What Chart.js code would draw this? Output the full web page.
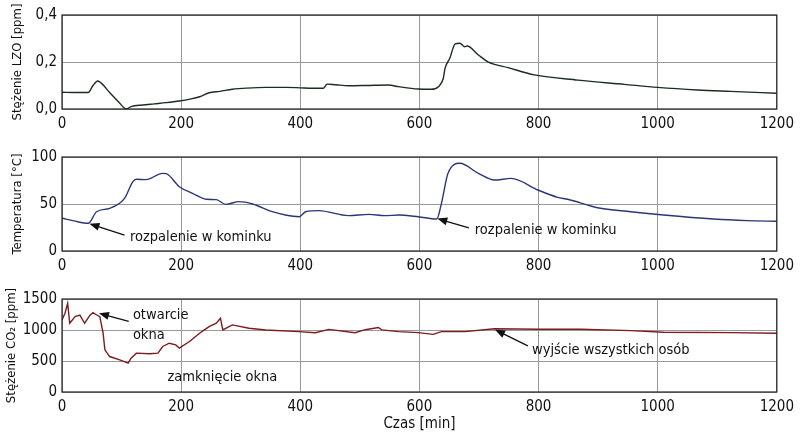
<!DOCTYPE html>
<html>
<head>
<meta charset="utf-8">
<script src="https://cdn.jsdelivr.net/npm/chart.js@4"></script>
<style>
  body { margin: 0; background: #fff; }
  #wrap { position: relative; width: 800px; height: 439px; }
  .panel { position: absolute; left: 0; width: 800px; }
</style>
</head>
<body>
<div id="wrap">
  <div class="panel" style="top:0;height:135px"><canvas id="lzo"></canvas></div>
  <div class="panel" style="top:135px;height:140px"><canvas id="temp"></canvas></div>
  <div class="panel" style="top:275px;height:164px"><canvas id="co2"></canvas></div>
</div>
<script>
const xTicks = [0, 200, 400, 600, 800, 1000, 1200];

// LZO [ppm]
const lzoTime = [0, 20, 44, 52, 60, 66, 80, 95, 108, 116, 135, 155, 175, 197, 215, 231, 247, 265, 286, 310, 342, 376, 400, 420, 439, 445, 460, 481, 510, 548, 565, 598, 620, 632, 640, 643, 651, 660, 668, 676, 680, 699, 715, 749, 793, 866, 944, 1000, 1067, 1122, 1200];
const lzoValue = [0.071, 0.07, 0.07, 0.1, 0.119, 0.11, 0.07, 0.03, 0.0, 0.01, 0.017, 0.022, 0.027, 0.034, 0.042, 0.052, 0.069, 0.075, 0.084, 0.089, 0.092, 0.092, 0.09, 0.088, 0.088, 0.106, 0.103, 0.099, 0.1, 0.102, 0.095, 0.085, 0.084, 0.095, 0.13, 0.173, 0.216, 0.277, 0.28, 0.265, 0.268, 0.23, 0.201, 0.176, 0.145, 0.123, 0.105, 0.092, 0.081, 0.075, 0.067];

// Temperatura [°C]
const tempTime = [0, 20, 44, 58, 80, 105, 119, 125, 141, 169, 175, 197, 219, 242, 259, 275, 297, 320, 353, 375, 398, 409, 431, 481, 515, 542, 565, 598, 629, 637, 648, 668, 699, 726, 754, 799, 832, 849, 899, 955, 1010, 1094, 1150, 1200];
const tempValue = [34.8, 32, 29.5, 41.8, 45.4, 56, 73.8, 76.3, 75.9, 82.6, 82.3, 68.4, 61.4, 55, 54.6, 49.6, 52.5, 50, 41.8, 38.3, 36.5, 41.8, 42.9, 37.6, 39, 37.6, 38.3, 36.5, 34, 50.7, 82.6, 93.3, 82.6, 75.5, 77.3, 64.9, 57.1, 55, 46, 41.8, 38.3, 34, 32.3, 31.6];

// Stężenie CO2 [ppm]
const co2Time = [0, 5, 9.5, 13, 22, 30, 38, 47, 52, 57, 63.5, 69, 72, 80, 97, 111, 116, 125, 147, 161, 169, 180, 191, 197, 214, 231, 239, 247, 259, 266, 270, 286, 314, 342, 398, 425, 448, 492, 509, 531, 537, 565, 598, 623, 637, 676, 726, 799, 871, 955, 1010, 1122, 1200];
const co2Value = [1162, 1270, 1431, 1109, 1215, 1240, 1109, 1240, 1280, 1250, 1215, 948, 680, 572, 519, 466, 546, 627, 616, 627, 734, 787, 760, 707, 814, 948, 1001, 1055, 1109, 1189, 1001, 1082, 1028, 1001, 974, 955, 1010, 955, 1005, 1040, 1001, 974, 958, 930, 974, 974, 1020, 1012, 1012, 990, 964, 958, 948];

// annotations: text position and arrow (tail -> head) in data units
const tempNotes = [
  { text: 'rozpalenie w kominku', x: 114, y: 15, arrow: [105, 17, 46, 29] },
  { text: 'rozpalenie w kominku', x: 693, y: 22, arrow: [683, 24.5, 630, 34.5] }
];
const co2Notes = [
  { text: 'otwarcie', x: 119, y: 1243, arrow: [112, 1140, 62, 1270] },
  { text: 'okna', x: 119, y: 921 },
  { text: 'zamknięcie okna', x: 177, y: 246 },
  { text: 'wyjście wszystkich osób', x: 789, y: 680, arrow: [782, 744, 727, 1005] }
];

const FONT = "'DejaVu Sans Condensed', 'Liberation Sans Narrow', Arial, sans-serif";

const frame = {
  id: 'frame',
  afterDraw(chart) {
    const a = chart.chartArea, ctx = chart.ctx;
    ctx.save();
    ctx.strokeStyle = '#222';
    ctx.lineWidth = 1.2;
    ctx.strokeRect(a.left, a.top, a.right - a.left, a.bottom - a.top);
    ctx.restore();
  }
};

const notes = {
  id: 'notes',
  afterDraw(chart, args, opts) {
    const list = opts.items || [];
    const xs = chart.scales.x, ys = chart.scales.y, ctx = chart.ctx;
    ctx.save();
    ctx.fillStyle = '#111';
    ctx.strokeStyle = '#111';
    ctx.font = '14.5px ' + FONT;
    ctx.textBaseline = 'middle';
    list.forEach(n => {
      ctx.fillText(n.text, xs.getPixelForValue(n.x), ys.getPixelForValue(n.y));
      if (n.arrow) {
        const x1 = xs.getPixelForValue(n.arrow[0]), y1 = ys.getPixelForValue(n.arrow[1]);
        const x2 = xs.getPixelForValue(n.arrow[2]), y2 = ys.getPixelForValue(n.arrow[3]);
        const ang = Math.atan2(y2 - y1, x2 - x1);
        ctx.lineWidth = 1.3;
        ctx.beginPath();
        ctx.moveTo(x1, y1);
        ctx.lineTo(x2 - 6 * Math.cos(ang), y2 - 6 * Math.sin(ang));
        ctx.stroke();
        ctx.beginPath();
        ctx.moveTo(x2, y2);
        ctx.lineTo(x2 - 10 * Math.cos(ang) + 4 * Math.sin(ang), y2 - 10 * Math.sin(ang) - 4 * Math.cos(ang));
        ctx.lineTo(x2 - 10 * Math.cos(ang) - 4 * Math.sin(ang), y2 - 10 * Math.sin(ang) + 4 * Math.cos(ang));
        ctx.closePath();
        ctx.fill();
      }
    });
    ctx.restore();
  }
};

function makePanel(id, times, values, color, cfg) {
  const pts = times.map((t, i) => ({ x: t, y: values[i] }));
  new Chart(document.getElementById(id), {
    type: 'line',
    data: {
      datasets: [{
        data: pts,
        borderColor: color,
        borderWidth: 1.4,
        pointRadius: 0,
        cubicInterpolationMode: cfg.smooth ? 'monotone' : 'default',
        tension: 0,
        fill: false
      }]
    },
    options: {
      responsive: true,
      maintainAspectRatio: false,
      animation: false,
      layout: { padding: { top: cfg.top, right: 16, left: 0, bottom: 0 } },
      plugins: {
        legend: { display: false },
        tooltip: { enabled: false },
        notes: { items: cfg.notes || [] }
      },
      scales: {
        x: {
          type: 'linear',
          min: 0,
          max: 1200,
          afterBuildTicks: s => { s.ticks = xTicks.map(v => ({ value: v })); },
          afterFit: s => { s.height = cfg.xh; },
          grid: { color: '#999', lineWidth: 1, drawTicks: false },
          border: { display: false },
          ticks: { padding: 6, color: '#111', font: { family: FONT, size: 15 }, maxRotation: 0, callback: v => String(v) },
          title: cfg.xTitle ? {
            display: true, text: cfg.xTitle, color: '#111',
            font: { family: FONT, size: 15 }, padding: { top: 0, bottom: 6 }
          } : { display: false }
        },
        y: {
          min: cfg.min,
          max: cfg.max,
          afterBuildTicks: s => { s.ticks = cfg.yTicks.map(v => ({ value: v })); },
          afterFit: s => { s.width = 62; },
          grid: { color: '#999', lineWidth: 1, drawTicks: false },
          border: { display: false },
          ticks: { padding: 5, color: '#111', font: { family: FONT, size: 15 }, callback: cfg.fmt },
          title: {
            display: true, text: cfg.yTitle, color: '#111',
            font: { family: FONT, size: 13 }, padding: { top: cfg.tp, bottom: 0 }
          }
        }
      }
    },
    plugins: [frame, notes]
  });
}

makePanel('lzo', lzoTime, lzoValue, '#1b2e1d', {
  top: 15, xh: 26, min: 0, max: 0.4, yTicks: [0, 0.2, 0.4], smooth: true,
  fmt: v => v.toFixed(1).replace('.', ','),
  yTitle: 'Stężenie LZO [ppm]', tp: 10
});
makePanel('temp', tempTime, tempValue, '#2b3677', {
  top: 22, xh: 24, min: 0, max: 100, yTicks: [0, 50, 100], smooth: true,
  fmt: v => String(v), yTitle: 'Temperatura [°C]', tp: 10, notes: tempNotes
});
makePanel('co2', co2Time, co2Value, '#7c1c1c', {
  top: 24, xh: 47, min: 0, max: 1500, yTicks: [0, 500, 1000, 1500], smooth: false,
  fmt: v => String(v), yTitle: 'Stężenie CO₂ [ppm]', tp: 4, notes: co2Notes,
  xTitle: 'Czas [min]'
});
</script>
</body>
</html>
